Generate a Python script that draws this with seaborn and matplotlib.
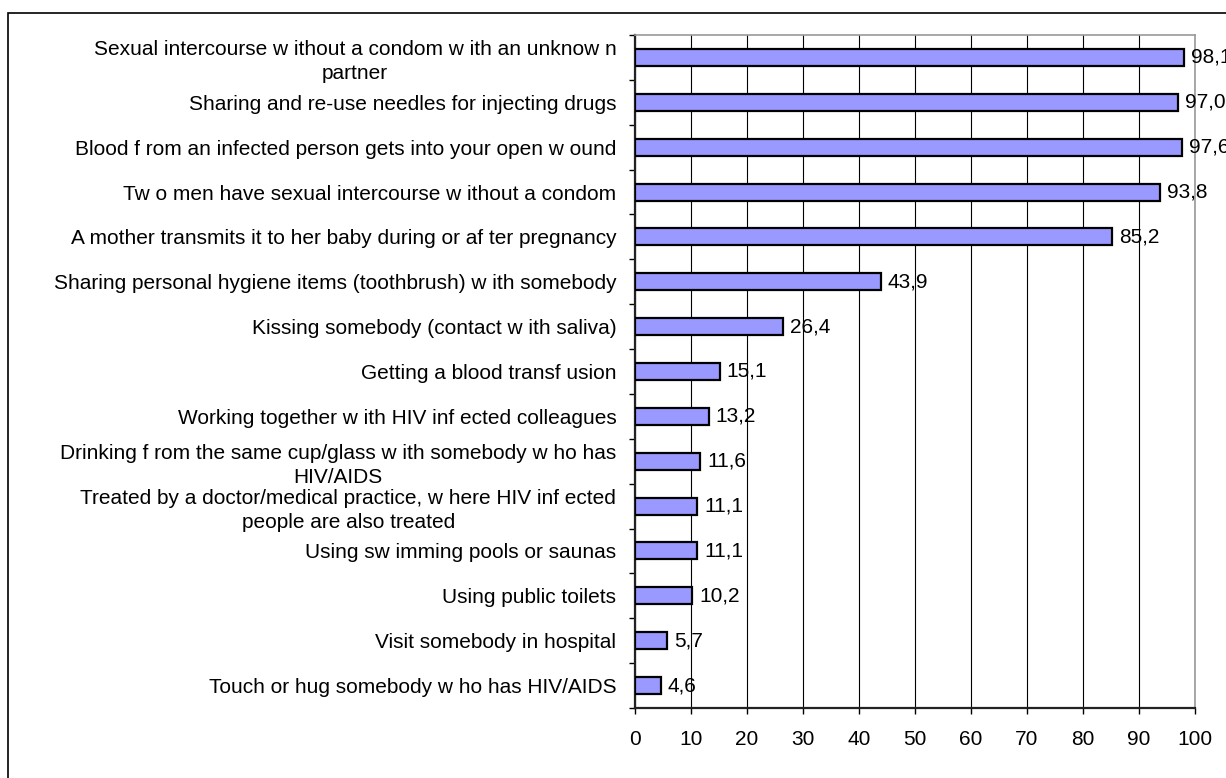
import matplotlib
matplotlib.use("Agg")
import matplotlib.pyplot as plt
import seaborn as sns
import pandas as pd
import numpy as np
from matplotlib.ticker import FixedLocator
from matplotlib.patches import Rectangle

categories = [
    "Sexual intercourse w ithout a condom w ith an unknow n\npartner",
    "Sharing and re-use needles for injecting drugs",
    "Blood f rom an infected person gets into your open w ound",
    "Tw o men have sexual intercourse w ithout a condom",
    "A mother transmits it to her baby during or af ter pregnancy",
    "Sharing personal hygiene items (toothbrush) w ith somebody",
    "Kissing somebody (contact w ith saliva)",
    "Getting a blood transf usion",
    "Working together w ith HIV inf ected colleagues",
    "Drinking f rom the same cup/glass w ith somebody w ho has\nHIV/AIDS",
    "Treated by a doctor/medical practice, w here HIV inf ected\npeople are also treated",
    "Using sw imming pools or saunas",
    "Using public toilets",
    "Visit somebody in hospital",
    "Touch or hug somebody w ho has HIV/AIDS",
]
values = [98.1, 97.0, 97.6, 93.8, 85.2, 43.9, 26.4, 15.1, 13.2, 11.6, 11.1, 11.1, 10.2, 5.7, 4.6]
x_ticks = [0, 10, 20, 30, 40, 50, 60, 70, 80, 90, 100]

sns.set_style("white")
plt.rcParams['font.family'] = ['Liberation Sans', 'DejaVu Sans']
plt.rcParams['text.color'] = 'black'
plt.rcParams['xtick.color'] = 'black'
plt.rcParams['ytick.color'] = 'black'

df = pd.DataFrame({"cat": categories, "val": values})

W, H = 1226, 778
fig = plt.figure(figsize=(W / 100, H / 100), dpi=100)
ax = fig.add_axes([635 / W, 1 - 708 / H, (1195 - 635) / W, (708 - 35) / H])

sns.barplot(data=df, y="cat", x="val", orient="h", color="#9999FF", saturation=1,
            edgecolor="black", linewidth=1.6, width=0.38, ax=ax, zorder=3)

FS = 15
ax.set_xlim(0, 100)
ax.set_ylim(len(categories) - 0.5, -0.5)
ax.set_xticks(x_ticks)
ax.set_xticklabels([str(t) for t in x_ticks], fontsize=FS, color="black")
ax.set_xlabel("")
ax.set_ylabel("")

ax.set_yticks(range(len(categories)))
ax.set_yticklabels(categories, fontsize=FS, multialignment="center", linespacing=1.3, color="black")
ax.yaxis.set_minor_locator(FixedLocator(np.arange(-0.5, len(categories), 1.0)))
ax.tick_params(axis="y", which="major", length=0, pad=13.5)
ax.tick_params(axis="y", which="minor", length=4, width=1, color="black", left=True)
ax.tick_params(axis="x", which="major", length=4, width=1, color="black", bottom=True, pad=12)

ax.xaxis.grid(True, color="black", linewidth=0.8, zorder=0)
ax.set_axisbelow(True)
for s in ["left", "bottom"]:
    ax.spines[s].set_color("#222222")
    ax.spines[s].set_linewidth(1.6)
for s in ["top", "right"]:
    ax.spines[s].set_color("#999999")
    ax.spines[s].set_linewidth(1.2)

for cont in ax.containers:
    ax.bar_label(cont, labels=[f"{v:.1f}".replace(".", ",") for v in values],
                 padding=5, fontsize=FS, color="black", clip_on=False)

fig.patches.append(Rectangle((8 / W, -0.05), 1.2, 1 - 13 / H + 0.05, transform=fig.transFigure,
                             fill=False, edgecolor="black", linewidth=1.2))

fig.savefig("out.png", dpi=100)
